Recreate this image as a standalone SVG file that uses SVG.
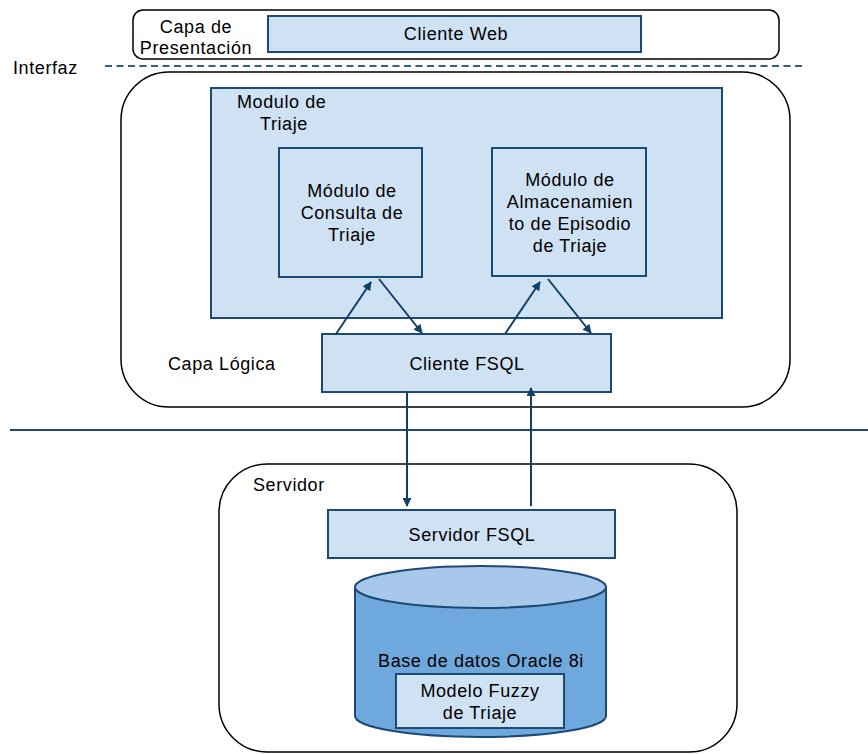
<svg xmlns="http://www.w3.org/2000/svg" width="868" height="754" viewBox="0 0 868 754">
  <defs>
    <marker id="arrow" viewBox="0 0 10 10" refX="9" refY="5" markerWidth="10" markerHeight="9" markerUnits="userSpaceOnUse" orient="auto">
      <path d="M0,0 L10,5 L0,10 z" fill="#123f68"/>
    </marker>
    <style>
      text { font-family: "Liberation Sans", Arial, sans-serif; font-size: 18px; letter-spacing: 0.6px; fill: #000; }
      .c { text-anchor: middle; }
      .layer { fill: #fff; stroke: #000; stroke-width: 1.5; }
      .box { fill: #cfe2f3; stroke: #1c4a75; stroke-width: 2; }
      .conn { stroke: #123f68; stroke-width: 2; fill: none; }
    </style>
  </defs>
  <rect width="868" height="754" fill="#fff"/>

  <!-- presentation layer -->
  <g id="presentation">
    <rect class="layer" x="133" y="10" width="646" height="49" rx="10"/>
    <text class="c" x="196" y="33">Capa de</text>
    <text class="c" x="196" y="54">Presentación</text>
  </g>
  <g id="cliente-web">
    <rect class="box" x="268" y="16" width="373" height="36"/>
    <text class="c" x="456" y="40">Cliente Web</text>
  </g>

  <!-- interface separator -->
  <g id="interfaz">
    <text x="13" y="74">Interfaz</text>
    <line x1="105" y1="66" x2="806" y2="66" stroke="#2f5f8a" stroke-width="2" stroke-dasharray="7,4.5"/>
  </g>

  <!-- logic layer -->
  <g id="logic">
    <rect class="layer" x="121" y="72" width="669" height="335" rx="48"/>
    <text x="168" y="370">Capa Lógica</text>
  </g>
  <g id="modulo-triaje">
    <rect class="box" x="211" y="88" width="511" height="230"/>
    <text x="237" y="108">Modulo de</text>
    <text x="260" y="130">Triaje</text>
  </g>
  <g id="modulo-consulta">
    <rect class="box" x="279" y="148" width="143" height="129"/>
    <text class="c" x="352" y="197">Módulo de</text>
    <text class="c" x="352" y="219">Consulta de</text>
    <text class="c" x="352" y="241">Triaje</text>
  </g>
  <g id="modulo-almacenamiento">
    <rect class="box" x="492" y="148" width="154" height="128"/>
    <text class="c" x="570" y="186">Módulo de</text>
    <text class="c" x="570" y="208">Almacenamien</text>
    <text class="c" x="570" y="230">to de Episodio</text>
    <text class="c" x="570" y="252">de Triaje</text>
  </g>
  <g id="cliente-fsql">
    <rect class="box" x="322" y="334" width="289" height="58"/>
    <text class="c" x="467" y="370">Cliente FSQL</text>
  </g>

  <!-- network boundary -->
  <line x1="10" y1="430" x2="868" y2="430" stroke="#1c4a75" stroke-width="2"/>

  <!-- server layer -->
  <g id="server">
    <rect class="layer" x="219" y="464" width="518" height="288" rx="48"/>
    <text x="253" y="491">Servidor</text>
  </g>
  <g id="servidor-fsql">
    <rect class="box" x="328" y="510" width="287" height="48"/>
    <text class="c" x="472" y="541">Servidor FSQL</text>
  </g>
  <g id="base-datos">
    <path d="M355,587 L355,716 A125.5,21 0 0 0 606,716 L606,587" fill="#6fa8dc" stroke="#1c4a75" stroke-width="2"/>
    <ellipse cx="480.5" cy="587" rx="125.5" ry="21" fill="#a7c8ea" stroke="#1c4a75" stroke-width="2"/>
    <text class="c" x="481" y="667">Base de datos Oracle 8i</text>
  </g>
  <g id="modelo-fuzzy">
    <rect class="box" x="396" y="674" width="168" height="54"/>
    <text class="c" x="480" y="697">Modelo Fuzzy</text>
    <text class="c" x="480" y="719">de Triaje</text>
  </g>

  <!-- connectors -->
  <g id="connectors">
    <line class="conn" x1="336" y1="334" x2="371" y2="282" marker-end="url(#arrow)"/>
    <line class="conn" x1="379" y1="279" x2="422" y2="333" marker-end="url(#arrow)"/>
    <line class="conn" x1="505" y1="334" x2="540" y2="282" marker-end="url(#arrow)"/>
    <line class="conn" x1="548" y1="279" x2="591" y2="333" marker-end="url(#arrow)"/>
    <line class="conn" x1="407" y1="392" x2="407" y2="506" marker-end="url(#arrow)"/>
    <line class="conn" x1="531" y1="506" x2="531" y2="388" marker-end="url(#arrow)"/>
  </g>
</svg>
